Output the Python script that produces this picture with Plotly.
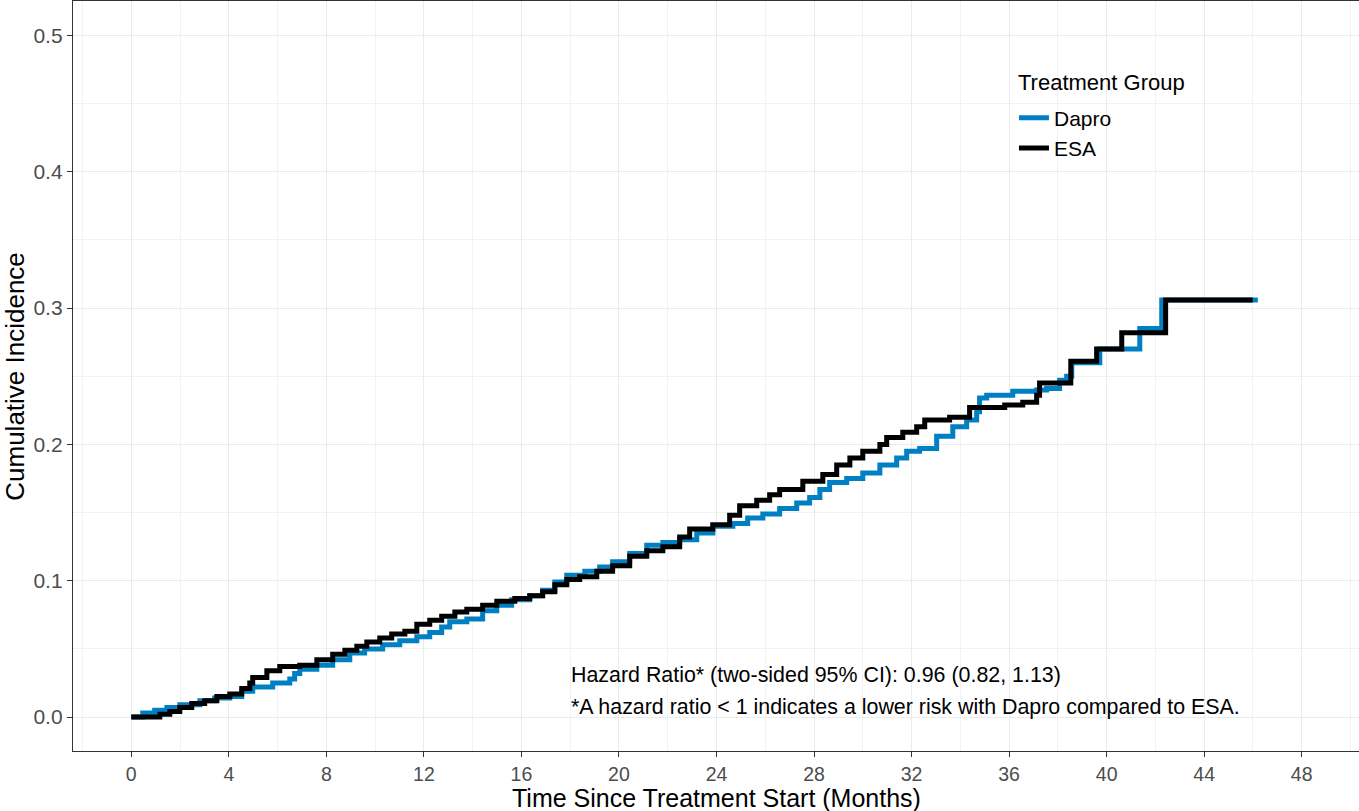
import plotly.graph_objects as go

# ---- data (months, cumulative incidence) ----
dapro_t = [0, 0.47, 0.96, 1.46, 1.99, 2.81, 3.42, 4.04, 4.53, 4.98, 5.8, 6.5, 6.7, 6.91,
           7.61, 8.26, 8.96, 9.57, 10.31, 11.01, 11.71, 12.24, 12.73, 13.06, 13.76, 14.41,
           14.99, 15.6, 16.34, 16.87, 17.37, 17.86, 18.6, 19.21, 19.74, 20.44, 21.14, 21.8,
           22.49, 23.19, 23.85, 24.67, 25.28, 25.9, 26.59, 27.29, 27.82, 28.24, 28.64, 29.34,
           30.0, 30.7, 31.39, 31.8, 32.33, 33.03, 33.69, 34.26, 34.67, 34.79, 35.08, 36.15,
           37.13, 37.54, 38.07, 38.36, 38.57, 39.72, 41.36, 42.26, 46.2]
dapro_v = [0, 0.003, 0.005, 0.007, 0.009, 0.012, 0.014, 0.015, 0.019, 0.022, 0.025, 0.028,
           0.032, 0.035, 0.038, 0.042, 0.047, 0.050, 0.053, 0.056, 0.059, 0.062, 0.066, 0.070,
           0.072, 0.078, 0.082, 0.086, 0.089, 0.093, 0.099, 0.104, 0.107, 0.110, 0.114, 0.120,
           0.126, 0.128, 0.130, 0.135, 0.140, 0.142, 0.146, 0.149, 0.153, 0.157, 0.161, 0.167,
           0.172, 0.175, 0.179, 0.185, 0.190, 0.195, 0.197, 0.206, 0.213, 0.218, 0.224, 0.234,
           0.236, 0.239, 0.240, 0.241, 0.247, 0.250, 0.260, 0.270, 0.285, 0.306, 0.306]

esa_t = [0, 1.17, 1.58, 1.99, 2.48, 3.01, 3.51, 4.04, 4.53, 4.86, 4.98, 5.56, 6.09, 6.91,
         7.61, 8.26, 8.76, 9.25, 9.66, 10.19, 10.68, 11.22, 11.71, 12.24, 12.73, 13.27, 13.76,
         14.41, 14.99, 15.73, 16.34, 16.87, 17.37, 17.86, 18.39, 19.09, 19.74, 20.44, 21.14,
         21.8, 22.49, 22.9, 23.85, 24.54, 24.95, 25.65, 26.18, 26.59, 27.54, 28.36, 28.93,
         29.47, 30.0, 30.7, 30.98, 31.64, 32.21, 32.54, 33.56, 34.38, 35.82, 36.56, 37.13,
         37.25, 38.53, 39.59, 40.62, 42.42, 45.99]
esa_v = [0, 0.002, 0.004, 0.007, 0.010, 0.012, 0.015, 0.017, 0.021, 0.025, 0.029, 0.034,
         0.037, 0.038, 0.042, 0.046, 0.049, 0.052, 0.055, 0.058, 0.061, 0.063, 0.068, 0.071,
         0.074, 0.077, 0.079, 0.082, 0.085, 0.087, 0.089, 0.092, 0.097, 0.101, 0.103, 0.107,
         0.111, 0.118, 0.122, 0.125, 0.132, 0.138, 0.141, 0.148, 0.155, 0.159, 0.163, 0.167,
         0.173, 0.178, 0.185, 0.190, 0.195, 0.200, 0.205, 0.209, 0.213, 0.218, 0.220, 0.227,
         0.229, 0.231, 0.236, 0.245, 0.261, 0.270, 0.282, 0.306, 0.306]

series_names = ["Dapro", "ESA"]
series_colors = ["#0080C2", "#000000"]
x_ticks = [0, 4, 8, 12, 16, 20, 24, 28, 32, 36, 40, 44, 48]
y_ticks = [0.0, 0.1, 0.2, 0.3, 0.4, 0.5]
legend_title = "Treatment Group"
note_lines = ["Hazard Ratio* (two-sided 95% CI): 0.96 (0.82, 1.13)",
              "*A hazard ratio &lt; 1 indicates a lower risk with Dapro compared to ESA."]

FONT = "Liberation Sans, Arial, sans-serif"

fig = go.Figure()
for name, t, v, c in zip(series_names, [dapro_t, esa_t], [dapro_v, esa_v], series_colors):
    fig.add_trace(go.Scatter(x=t, y=v, mode="lines", name=name,
                             line=dict(color=c, width=5, shape="hv")))

grid = "#EBEBEB"
fig.update_layout(
    width=1359, height=811,
    margin=dict(l=73, r=0, t=1, b=60),
    paper_bgcolor="white", plot_bgcolor="white",
    font=dict(family=FONT, color="black"),
    showlegend=True,
    legend=dict(
        font=dict(size=21, family=FONT, color="black"),
        x=0.7317, y=0.824, xanchor="left", yanchor="middle",
        bgcolor="rgba(255,255,255,0)", borderwidth=0, tracegroupgap=0,
    ),
    xaxis=dict(
        range=[-2.39, 50.35], tickvals=x_ticks, ticktext=[str(v) for v in x_ticks],
        showgrid=True, gridcolor=grid, gridwidth=1.3, zeroline=False,
        minor=dict(dtick=2, tick0=0, showgrid=True, gridcolor="#F2F2F2", gridwidth=1, ticklen=0),
        showline=True, linecolor="#333333", linewidth=1.4, mirror=True,
        ticks="outside", ticklen=5, tickwidth=1.3, tickcolor="#333333",
        tickfont=dict(size=19.5, color="#4D4D4D", family=FONT),
    ),
    yaxis=dict(
        range=[-0.0249, 0.5253], tickvals=y_ticks, ticktext=[f"{v:.1f}" for v in y_ticks],
        showgrid=True, gridcolor=grid, gridwidth=1.3, zeroline=False,
        minor=dict(dtick=0.05, tick0=0, showgrid=True, gridcolor="#F2F2F2", gridwidth=1, ticklen=0),
        showline=True, linecolor="#333333", linewidth=1.4, mirror=False,
        ticks="outside", ticklen=5, tickwidth=1.3, tickcolor="#333333",
        tickfont=dict(size=21, color="#4D4D4D", family=FONT),
    ),
)

# white legend background box covering the grid
fig.add_shape(type="rect", xref="paper", yref="paper", x0=0.727, x1=0.874, y0=0.78, y1=0.9187,
              fillcolor="white", line=dict(width=0), layer="between")
fig.add_annotation(text=legend_title, xref="paper", yref="paper", x=0.7335, y=0.8907,
                   xanchor="left", yanchor="middle", showarrow=False,
                   font=dict(size=22, family=FONT, color="black"))

# axis titles
fig.add_annotation(text="Time Since Treatment Start (Months)", xref="paper", yref="paper",
                   x=0.5007, y=-0.063, xanchor="center", yanchor="middle", showarrow=False,
                   font=dict(size=25, family=FONT, color="black"))
fig.add_annotation(text="Cumulative Incidence", xref="paper", yref="paper",
                   x=-0.0453, y=0.5, xanchor="center", yanchor="middle", showarrow=False,
                   textangle=-90, font=dict(size=26, family=FONT, color="black"))

# hazard ratio note
for line, yv in zip(note_lines, [0.0306, 0.0075]):
    fig.add_annotation(text=line, xref="x", yref="y", x=17.95, y=yv,
                       xanchor="left", yanchor="middle", showarrow=False,
                       font=dict(size=21.4, family=FONT, color="black"))

fig.write_html("out.html")
